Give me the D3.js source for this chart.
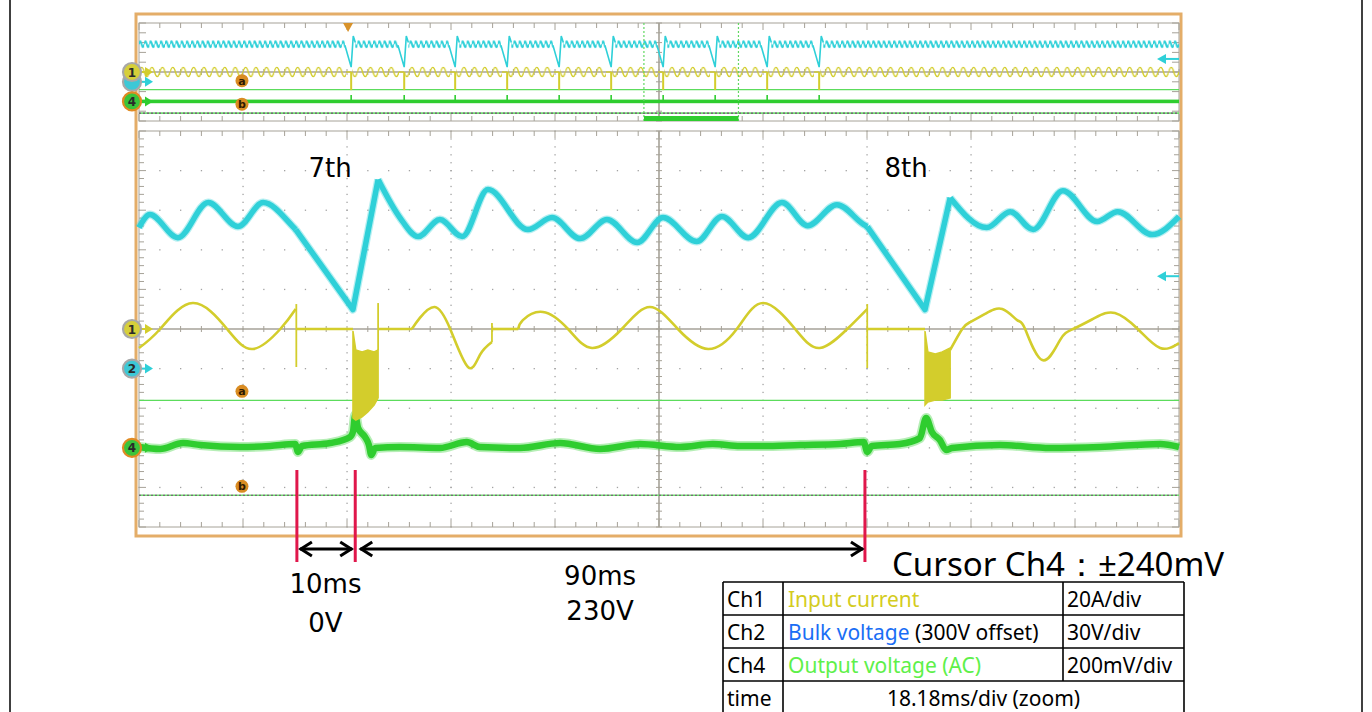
<!DOCTYPE html>
<html>
<head>
<meta charset="utf-8">
<script src="https://cdn.jsdelivr.net/npm/d3@7"></script>
<style>
  body { margin: 0; background: #fff; }
  svg { display: block; }
</style>
</head>
<body>
<svg id="chart" width="1372" height="712"></svg>
<script>
// time bases (ms)
const zoomMsPerDiv = 18.18;
const overviewMsPerDiv = 200;
const zoomStartMs = 971;
const triggerMs = 402;
const dropoutMs = 10;

// channel setup: marker position (div), units per div, offset
const ch1 = { perDiv: 20, pos: 0, offset: 0, color: '#d3cd2c' };
const ch2 = { perDiv: 30, pos: -1, offset: 300, color: '#2fd0d8' };
const ch4 = { perDiv: 200, pos: -3, offset: 0, color: '#2fcd2f' };

// Ch2 bulk voltage in zoom window [ms, V]; ripple pieces and dropout (decay + recharge) pieces
const ch2Ripple = [
  [[0,406.8],[1.9,416.7],[6.8,399.2],[12.1,425.8],[17.3,407.6],[21.7,425.8],[26.9,407.6],[27.4,405.3]],
  [[41.8,443.2],[45.6,414.4],[48.8,400.0],[52.6,412.9],[56.5,400.0],[61.0,435.6],[68.0,405.3],[72.2,414.4],
   [77.1,398.5],[81.8,412.9],[87.1,395.5],[91.6,414.4],[97.5,396.2],[101.9,415.2],[106.5,399.2],[112.4,425.8],
   [116.9,408.3],[122.0,424.2],[126.7,409.1],[127.3,407.6]],
  [[141.8,429.5],[148.2,406.8],[152.3,418.9],[156.3,405.3],[161.5,434.8],[167.5,411.4],[171.1,418.9],
   [177.1,401.5],[181.8,415.2]]
];
const ch2Dropout = [
  [[27.4,405.3],[37.4,344.7],[41.8,443.2]],
  [[127.3,407.6],[137.4,344.7],[141.8,429.5]]
];

// Ch1 input current [ms, A]
const ch1Wave = [
  [[0,-9.6],[3.7,0],[9.4,13.1],[15.4,0],[19.9,-10.1],[24.7,0],[27.4,10.1]],
  [[47.7,0],[49.1,5.6],[51.7,11.1],[54.4,0],[57.5,-19.2],[59.6,-13.1],[61.7,-6.6]],
  [[66.3,0],[67.1,4.5],[70.6,8.6],[75.0,0],[79.2,-9.6],[84.4,0],[89.3,11.1],[94.2,0],[99.5,-10.1],
   [104.5,0],[109.1,13.1],[114.7,0],[119.0,-9.6],[123.8,0],[127.3,10.1]],
  [[141.8,-10.6],[143.9,0],[145.3,3.5],[147.9,7.6],[150.9,10.1],[153.5,4.5],[154.9,0],[157.9,-15.7],[161.0,-5.6],
   [163.3,0],[167.1,5.6],[170.6,8.1],[174.6,0],[178.5,-9.6],[181.8,-7.1]]
];
// zero-current stretches [from ms, to ms]
const ch1Flat = [[27.6,37.4],[41.8,47.7],[61.7,66.3],[127.4,137.4]];
// [ms, from A, to A]
const ch1Spikes = [[27.5,12.6,-19.2],[41.8,-10.6,13.1],[61.7,-6.6,3.0],[127.3,12.6,-19.7]];
// inrush envelope [ms, top A, bottom A]
const ch1Inrush = [
  [[37.4,-1.0,-44.9],[37.9,-10.6,-46.0],[39.0,-11.6,-44.4],[40.0,-10.6,-41.9],[41.1,-11.6,-38.4],[41.8,-10.6,-34.8]],
  [[137.4,-1.0,-38.4],[137.9,-11.6,-36.9],[139.2,-12.6,-35.9],[140.4,-11.6,-35.9],[141.8,-9.6,-34.8]]
];

// Ch4 output voltage (AC) [ms, mV]
const ch4Out = [[0,4],[3.7,-6],[7.7,24],[10.7,14],[17.7,4],[22.9,9],[27.3,19],[27.8,-21],[28.5,9],[33.4,24],
  [36.9,55],[37.4,80],[37.8,166],[38.3,100],[39.5,55],[40.2,14],[40.6,-36],[41.3,-1],[45.6,4],[52.6,-1],
  [57.3,29],[59.6,4],[66.6,-1],[73.6,24],[80.6,-6],[87.6,19],[94.6,4],[100.3,19],[105.1,9],[108.6,9],
  [115.6,14],[122.5,19],[126.7,29],[127.3,-21],[128.1,9],[133.0,19],[136.5,49],[137.6,150],[138.6,80],
  [140.0,39],[141.1,-11],[142.1,-1],[150.5,14],[159.3,-1],[168.0,4],[178.5,19],[181.8,4]];

// overview (200 ms/div): dropout start times (ms)
const dropoutStarts = [398, 500, 598, 698, 798, 898, 998, 1098, 1198, 1298];
const ovBulkLevel = 415;
const ovBulkDip = [[-2,412],[10,345],[14,440],[18,420]];
const ovInrushPeak = -37;
const ovOutSpike = 130;
const mainsHz = 50;

// cursors / levels
const cursorMv = 240;
const ch2Level = 370;

// annotations
const cycleLabels = [["7th", 33.4], ["8th", 134.1]];
const markerTimes = [27.6, 37.8, 126.9];
const gapLabels = [["10ms", "0V", 32.6], ["90ms", "230V", 80.6]];
const cursorText = "Cursor Ch4：±240mV";
const tableRows = [
  ["Ch1", [["Input current", "#d4cc1e"]], "20A/div"],
  ["Ch2", [["Bulk voltage", "#1a6ef5"], [" (300V offset)", "#000"]], "30V/div"],
  ["Ch4", [["Output voltage (AC)", "#5ef04a"]], "200mV/div"],
  ["time", [["18.18ms/div (zoom)", "#000"]], null]
];

// ---------------------------------------------------------------
const svg = d3.select('#chart');
const defs = svg.append('defs');
const main = { x0: 139, x1: 1179, y0: 131, y1: 527 };
const ov = { x0: 139, x1: 1179, y0: 23, y1: 121 };
const gridCol = '#a6a298';

const x = d3.scaleLinear().domain([0, 10 * zoomMsPerDiv]).range([main.x0, main.x1]);
const yDiv = d3.scaleLinear().domain([-5, 5]).range([main.y1, main.y0]);
const xo = d3.scaleLinear().domain([0, 10 * overviewMsPerDiv]).range([ov.x0, ov.x1]);
const yoDiv = d3.scaleLinear().domain([-5, 5]).range([ov.y1, ov.y0]);
const chY = (ch, ys) => v => ys(ch.pos + (v - ch.offset) / ch.perDiv);
const y1 = chY(ch1, yDiv), y2 = chY(ch2, yDiv), y4 = chY(ch4, yDiv);
const yo1 = chY(ch1, yoDiv), yo2 = chY(ch2, yoDiv), yo4 = chY(ch4, yoDiv);

// scope frame
svg.append('rect').attr('x', 136).attr('y', 14).attr('width', 1045).attr('height', 522)
  .attr('fill', 'none').attr('stroke', '#e4ad68').attr('stroke-width', 3);
svg.append('line').attr('x1', 10).attr('x2', 10).attr('y1', 0).attr('y2', 712).attr('stroke', '#000').attr('stroke-width', 1.5);
svg.append('line').attr('x1', 1362).attr('x2', 1362).attr('y1', 0).attr('y2', 712).attr('stroke', '#000').attr('stroke-width', 1.5);

function grid(b, ySub, dotted) {
  const g = svg.append('g');
  const xs = d3.scaleLinear().domain([0, 10]).range([b.x0, b.x1]);
  const ys = d3.scaleLinear().domain([0, 10]).range([b.y0, b.y1]);
  const mx = d3.range(51).map(i => i / 5);
  const my = d3.range(10 * ySub + 1).map(i => i / ySub);
  if (dotted) {
    for (let i = 1; i < 10; i++) {
      if (i === 5) continue;
      my.forEach(j => g.append('rect').attr('x', xs(i) - 0.6).attr('y', ys(j) - 0.6).attr('width', 1.3).attr('height', 1.3).attr('fill', '#a3a3a3'));
      mx.forEach(j => g.append('rect').attr('x', xs(j) - 0.6).attr('y', ys(i) - 0.6).attr('width', 1.3).attr('height', 1.3).attr('fill', '#a3a3a3'));
    }
  }
  g.append('rect').attr('x', b.x0).attr('y', b.y0).attr('width', b.x1 - b.x0).attr('height', b.y1 - b.y0)
    .attr('fill', 'none').attr('stroke', gridCol).attr('stroke-width', 1);
  const tk = (x1, y1, x2, y2, w) => g.append('line').attr('x1', x1).attr('y1', y1).attr('x2', x2).attr('y2', y2)
    .attr('stroke', gridCol).attr('stroke-width', w || 1);
  mx.forEach(j => {
    const L = (j % 1 === 0) ? 7 : 5;
    tk(xs(j), b.y0, xs(j), b.y0 + L);
    tk(xs(j), b.y1, xs(j), b.y1 - L);
    tk(xs(j), ys(5) - 3, xs(j), ys(5) + 3);
  });
  my.forEach(j => {
    const L = (j % 1 === 0) ? 7 : 5;
    tk(b.x0, ys(j), b.x0 + L, ys(j));
    tk(b.x1, ys(j), b.x1 - L, ys(j));
    tk(xs(5) - 3, ys(j), xs(5) + 3, ys(j));
  });
  tk(b.x0, ys(5), b.x1, ys(5), 1.6);
  tk(xs(5), b.y0, xs(5), b.y1, 1.6);
}
grid(ov, 1, false);
grid(main, 5, true);

// ---------- cursors ----------
function cursors(ys4, b) {
  svg.append('line').attr('x1', b.x0).attr('x2', b.x1).attr('y1', ys4(cursorMv)).attr('y2', ys4(cursorMv))
    .attr('stroke', '#5cdc5c').attr('stroke-width', 1.3);
  svg.append('line').attr('x1', b.x0).attr('x2', b.x1).attr('y1', ys4(-cursorMv)).attr('y2', ys4(-cursorMv))
    .attr('stroke', '#707070').attr('stroke-width', 1.6).attr('stroke-dasharray', '2,2');
  svg.append('line').attr('x1', b.x0 + 2).attr('x2', b.x1).attr('y1', ys4(-cursorMv)).attr('y2', ys4(-cursorMv))
    .attr('stroke', '#6ee06e').attr('stroke-width', 1.6).attr('stroke-dasharray', '2,2');
}
cursors(yo4, ov);
cursors(y4, main);

// ---------- overview traces ----------
function wavePattern(id, periodPx, ampPx, yCenter, color, sw) {
  const h = 2 * ampPx + 2 * sw + 2, c = h / 2;
  const p = defs.append('pattern').attr('id', id).attr('patternUnits', 'userSpaceOnUse')
    .attr('x', ov.x0).attr('y', yCenter - c).attr('width', periodPx).attr('height', h);
  p.append('path')
    .attr('d', `M0,${c} Q${periodPx / 4},${c - 2 * ampPx} ${periodPx / 2},${c} Q${periodPx * 3 / 4},${c + 2 * ampPx} ${periodPx},${c}`)
    .attr('fill', 'none').attr('stroke', color).attr('stroke-width', sw);
  return { id, top: yCenter - c, h };
}
const periodMs = 1000 / mainsHz;
const cyanPat = wavePattern('cy', xo(periodMs / 2) - xo(0), 3, yo2(ovBulkLevel), ch2.color, 1.8);
const yelPat = wavePattern('ye', xo(periodMs) - xo(0), 4.6, yo1(0), ch1.color, 1.4);
const ovG = svg.append('g');
function band(p, t0, t1) {
  ovG.append('rect').attr('x', xo(t0)).attr('y', p.top).attr('width', Math.max(0, xo(t1) - xo(t0)))
    .attr('height', p.h).attr('fill', `url(#${p.id})`);
}
// Ch4 overview band
ovG.append('rect').attr('x', ov.x0).attr('y', yo4(0) - 1.8).attr('width', ov.x1 - ov.x0).attr('height', 3.6).attr('fill', ch4.color);
dropoutStarts.forEach(s => {
  ovG.append('line').attr('x1', xo(s + dropoutMs)).attr('x2', xo(s + dropoutMs))
    .attr('y1', yo4(0)).attr('y2', yo4(ovOutSpike)).attr('stroke', ch4.color).attr('stroke-width', 1.6);
});
// Ch1 overview
let prev = 0;
dropoutStarts.forEach(s => {
  band(yelPat, prev, s);
  ovG.append('line').attr('x1', xo(s)).attr('x2', xo(s + dropoutMs)).attr('y1', yo1(0)).attr('y2', yo1(0))
    .attr('stroke', ch1.color).attr('stroke-width', 1.4);
  ovG.append('line').attr('x1', xo(s + dropoutMs)).attr('x2', xo(s + dropoutMs)).attr('y1', yo1(0)).attr('y2', yo1(ovInrushPeak))
    .attr('stroke', ch1.color).attr('stroke-width', 2);
  prev = s + dropoutMs + 2;
});
band(yelPat, prev, 10 * overviewMsPerDiv);
// Ch2 overview
prev = 0;
const dipLine = d3.line().x(d => xo(d[0])).y(d => yo2(d[1]));
dropoutStarts.forEach(s => {
  band(cyanPat, prev, s + ovBulkDip[0][0]);
  ovG.append('path').attr('d', dipLine(ovBulkDip.map(d => [s + d[0], d[1]])))
    .attr('fill', 'none').attr('stroke', ch2.color).attr('stroke-width', 1.6);
  prev = s + ovBulkDip[ovBulkDip.length - 1][0];
});
band(cyanPat, prev, 10 * overviewMsPerDiv);

// zoom window + trigger
const zx0 = xo(zoomStartMs), zx1 = xo(zoomStartMs + 10 * zoomMsPerDiv);
[zx0, zx1].forEach(v => svg.append('line').attr('x1', v).attr('x2', v).attr('y1', ov.y0).attr('y2', ov.y1)
  .attr('stroke', '#62d862').attr('stroke-width', 1.2).attr('stroke-dasharray', '2,2'));
svg.append('rect').attr('x', zx0).attr('y', 116).attr('width', zx1 - zx0).attr('height', 5).attr('fill', ch4.color);
const tx = xo(triggerMs);
svg.append('path').attr('d', `M${tx - 5},${ov.y0} L${tx + 5},${ov.y0} L${tx},${ov.y0 + 9} Z`).attr('fill', '#d8922a');

// ---------- main traces ----------
const lineOf = (ys, curve) => d3.line().x(d => x(d[0])).y(d => ys(d[1])).curve(curve);
const mg = svg.append('g');
// noisy traces: faint halo under a solid core
[[10, 0.35], [6.5, 1]].forEach(([w, o]) => mg.append('path').attr('d', lineOf(y4, d3.curveMonotoneX)(ch4Out)).attr('fill', 'none')
  .attr('stroke', ch4.color).attr('stroke-width', w).attr('stroke-opacity', o).attr('stroke-linejoin', 'round'));
const yel = (d) => mg.append('path').attr('d', d).attr('fill', 'none')
  .attr('stroke', ch1.color).attr('stroke-width', 2.6).attr('stroke-linejoin', 'round');
ch1Wave.forEach(seg => yel(lineOf(y1, d3.curveNatural)(seg)));
ch1Flat.forEach(([a, b]) => yel(lineOf(y1, d3.curveLinear)([[a, 0], [b, 0]])));
ch1Spikes.forEach(d => mg.append('line').attr('x1', x(d[0])).attr('x2', x(d[0])).attr('y1', y1(d[1])).attr('y2', y1(d[2]))
  .attr('stroke', ch1.color).attr('stroke-width', 1.8));
const inrushArea = d3.area().x(d => x(d[0])).y0(d => y1(d[1])).y1(d => y1(d[2]));
ch1Inrush.forEach(seg => mg.append('path').attr('d', inrushArea(seg)).attr('fill', ch1.color)
  .attr('stroke', ch1.color).attr('stroke-width', 1.5));
const cyanD = ch2Ripple.map(seg => lineOf(y2, d3.curveMonotoneX)(seg))
  .concat(ch2Dropout.map(seg => lineOf(y2, d3.curveLinear)(seg)));
[[8, 0.35], [5.5, 1]].forEach(([w, o]) => cyanD.forEach(d => mg.append('path').attr('d', d).attr('fill', 'none')
  .attr('stroke', ch2.color).attr('stroke-width', w).attr('stroke-opacity', o).attr('stroke-linejoin', 'round')));

// ---------- markers ----------
function chMarker(cx, cy, label, fill, ring, arrow, withText) {
  const g = svg.append('g');
  g.append('line').attr('x1', cx + 8).attr('x2', cx + 14).attr('y1', cy).attr('y2', cy).attr('stroke', arrow).attr('stroke-width', 2);
  g.append('path').attr('d', `M${cx + 13},${cy - 5} L${cx + 21},${cy} L${cx + 13},${cy + 5} Z`).attr('fill', arrow);
  g.append('circle').attr('cx', cx).attr('cy', cy).attr('r', 9).attr('fill', fill).attr('stroke', ring).attr('stroke-width', 2.2);
  if (withText) g.append('text').attr('x', cx).attr('y', cy + 4.5).attr('text-anchor', 'middle')
    .attr('font-family', 'DejaVu Sans, sans-serif').attr('font-weight', 'bold').attr('font-size', 12)
    .attr('fill', '#2a2a2a').text(label);
}
function curMarker(cx, cy, label) {
  svg.append('circle').attr('cx', cx).attr('cy', cy).attr('r', 6.5).attr('fill', '#d98c22');
  svg.append('text').attr('x', cx).attr('y', cy + 4).attr('text-anchor', 'middle')
    .attr('font-family', 'DejaVu Sans, sans-serif').attr('font-weight', 'bold').attr('font-size', 11)
    .attr('fill', '#2e1a00').text(label);
}
function levelArrow(yv) {
  svg.append('line').attr('x1', main.x1 - 14).attr('x2', main.x1).attr('y1', yv).attr('y2', yv).attr('stroke', ch2.color).attr('stroke-width', 2);
  svg.append('path').attr('d', `M${main.x1 - 22},${yv} L${main.x1 - 13},${yv - 5} L${main.x1 - 13},${yv + 5} Z`).attr('fill', ch2.color);
}
const mkX = 132;
[[yo1, yo2, yo4, false], [y1, y2, y4, true]].forEach(([f1, f2, f4, full]) => {
  // in the overview the "2" badge sits hidden under "1" and "4"; only its arrow shows
  chMarker(mkX, f2(ch2.offset), '2', '#3cc8d6', '#a8a8a8', ch2.color, full);
  chMarker(mkX, f1(0), '1', '#d6cf3a', '#a8a8a8', ch1.color, true);
  chMarker(mkX, f4(0), '4', '#3ac43a', '#e08a22', ch4.color, true);
  curMarker(x(zoomMsPerDiv * 0.99), f4(cursorMv) - 9, 'a');
  curMarker(x(zoomMsPerDiv * 0.99), f4(-cursorMv) - 9, 'b');
  levelArrow(f2(ch2Level));
});

// ---------- annotations ----------
const ann = svg.append('g').attr('font-family', 'DejaVu Sans, sans-serif').attr('fill', '#000');
cycleLabels.forEach(([t, ms]) => ann.append('text').attr('x', x(ms)).attr('y', 177)
  .attr('text-anchor', 'middle').attr('font-size', 26).text(t));
markerTimes.forEach(ms => svg.append('line').attr('x1', x(ms)).attr('x2', x(ms)).attr('y1', 470).attr('y2', 562)
  .attr('stroke', '#e0174b').attr('stroke-width', 3));
function dblArrow(xa, xb, yv) {
  const g = svg.append('g').attr('stroke', '#000').attr('stroke-width', 3).attr('fill', 'none');
  g.append('line').attr('x1', xa).attr('x2', xb).attr('y1', yv).attr('y2', yv);
  g.append('path').attr('d', `M${xa + 12},${yv - 7} L${xa + 1},${yv} L${xa + 12},${yv + 7}`);
  g.append('path').attr('d', `M${xb - 12},${yv - 7} L${xb - 1},${yv} L${xb - 12},${yv + 7}`);
}
dblArrow(x(markerTimes[0]) + 3, x(markerTimes[1]) - 3, 549);
dblArrow(x(markerTimes[1]) + 5, x(markerTimes[2]) - 2, 549);
gapLabels.forEach(([a, b, ms], i) => {
  ann.append('text').attr('x', x(ms)).attr('y', i === 0 ? 593 : 585).attr('text-anchor', 'middle').attr('font-size', 26).text(a);
  ann.append('text').attr('x', x(ms)).attr('y', i === 0 ? 632 : 620).attr('text-anchor', 'middle').attr('font-size', 26).text(b);
});
svg.append('text').attr('x', 892).attr('y', 576).attr('font-family', 'Noto Sans, sans-serif')
  .attr('font-size', 33).attr('fill', '#000').text(cursorText);

// ---------- table ----------
const tX = [723, 783, 1063, 1184];
const tY = [582, 615, 648, 681, 714];
const tg = svg.append('g').attr('stroke', '#000').attr('stroke-width', 1.6);
tY.forEach(v => tg.append('line').attr('x1', tX[0]).attr('x2', tX[3]).attr('y1', v).attr('y2', v));
[tX[0], tX[1], tX[3]].forEach(v => tg.append('line').attr('x1', v).attr('x2', v).attr('y1', tY[0]).attr('y2', tY[4]));
tg.append('line').attr('x1', tX[2]).attr('x2', tX[2]).attr('y1', tY[0]).attr('y2', tY[3]);
const tt = svg.append('g').attr('font-family', 'Noto Sans, sans-serif').attr('font-size', 21);
tableRows.forEach((r, i) => {
  const by = tY[i] + 25;
  tt.append('text').attr('x', tX[0] + 4).attr('y', by).attr('fill', '#000').text(r[0]);
  const t = tt.append('text').attr('y', by);
  if (r[2] === null) t.attr('x', (tX[1] + tX[3]) / 2).attr('text-anchor', 'middle');
  else t.attr('x', tX[1] + 5);
  r[1].forEach(([s, c]) => t.append('tspan').attr('fill', c).text(s));
  if (r[2] !== null) tt.append('text').attr('x', tX[2] + 4).attr('y', by).attr('fill', '#000').text(r[2]);
});
</script>
</body>
</html>
